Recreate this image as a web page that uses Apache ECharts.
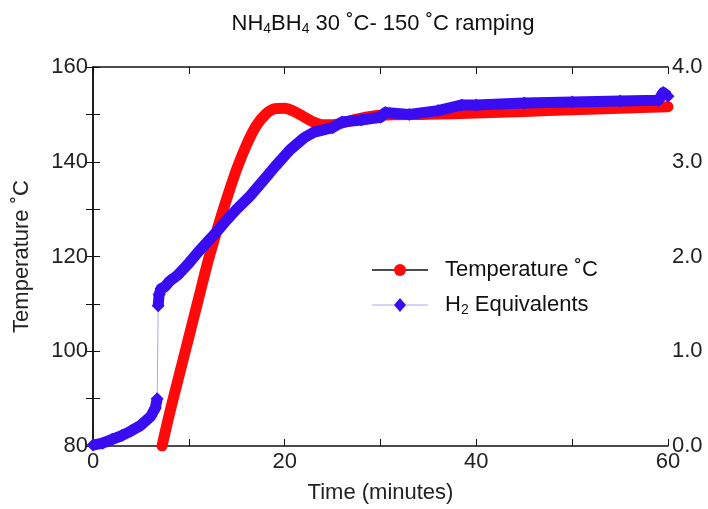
<!DOCTYPE html>
<html>
<head>
<meta charset="utf-8">
<script src="https://cdn.jsdelivr.net/npm/echarts@6/dist/echarts.min.js"></script>
<style>
  html, body { margin: 0; padding: 0; background: #fff; }
  #chart { width: 708px; height: 509px; }
</style>
</head>
<body>
<div id="chart"></div>
<script>
// temperature trace (left axis, °C)
const tempTime = [7.2, 8, 9, 10, 11, 12, 13, 14, 15, 16, 17, 18, 19, 20, 21, 22, 23, 24, 25, 26, 28, 30, 35, 40, 45, 50, 55, 60]
const tempValue = [80, 87, 95, 103, 111, 119, 126, 132.5, 138.5, 143.5, 147.5, 150, 151.2, 151.3, 150.6, 149.5, 148.4, 147.8, 147.8, 148.2, 149.2, 149.8, 150, 150.3, 150.6, 151, 151.3, 151.6]

// H2 equivalents (right axis)
const h2Time = [0, 1, 2, 3, 4, 5, 6, 6.5, 6.7, 6.8, 6.9, 7.1, 7.5, 8, 8.8, 10, 11, 12, 12.9, 14, 15, 16.4, 18, 19, 20.6, 22, 23, 25, 26, 28, 30, 30.5, 33, 36, 38.5, 40, 45, 50, 55, 59, 59.5, 60]
const h2Value = [0.01, 0.03, 0.07, 0.11, 0.16, 0.22, 0.31, 0.4, 0.5, 1.48, 1.6, 1.66, 1.68, 1.74, 1.8, 1.93, 2.05, 2.16, 2.26, 2.39, 2.5, 2.64, 2.83, 2.95, 3.13, 3.25, 3.31, 3.36, 3.42, 3.44, 3.47, 3.52, 3.5, 3.54, 3.6, 3.6, 3.62, 3.63, 3.64, 3.65, 3.73, 3.69]

const xTicks = [0, 20, 40, 60]
const leftTicks = [80, 100, 120, 140, 160]
const rightTicks = [0, 1, 2, 3, 4]

const RED = '#ff0a0a'
const BLUE = '#3a0cf2'
const FONT = 'Liberation Sans, Arial, sans-serif'

const tempData = tempTime.map((t, i) => [t, tempValue[i]])

// split the H2 band where the value jumps, and keep the jump as a thin connector
const bandData = []
let jumpAt = -1
h2Time.forEach((t, i) => {
  if (i > 0 && h2Value[i] - h2Value[i - 1] > 0.5) {
    jumpAt = i
    bandData.push([t, null])
  }
  bandData.push([t, h2Value[i]])
})
const jumpData = jumpAt > 0
  ? [[h2Time[jumpAt - 1], h2Value[jumpAt - 1]], [h2Time[jumpAt], h2Value[jumpAt]]]
  : []

const chart = echarts.init(document.getElementById('chart'))

const labelStyle = { color: '#222', fontSize: 22, fontFamily: FONT }
const subStyle = { fontSize: 14, verticalAlign: 'bottom', padding: [11, 0, 0, 0], color: '#111', fontFamily: FONT }

chart.setOption({
  animation: false,
  backgroundColor: '#fff',
  title: {
    text: 'NH{s|4}BH{s|4} 30 ˚C- 150 ˚C ramping',
    left: 378,
    textAlign: 'center',
    top: 6,
    textStyle: {
      color: '#111', fontSize: 22, fontWeight: 'normal', fontFamily: FONT,
      rich: { s: subStyle },
    },
  },
  grid: { left: 93, right: 40, top: 67, bottom: 60 },
  xAxis: [
    {
      type: 'value', min: 0, max: 60, interval: 20,
      name: 'Time (minutes)', nameLocation: 'middle', nameGap: 36,
      nameTextStyle: labelStyle,
      axisLine: { lineStyle: { color: '#111', width: 1.5 } },
      axisTick: { inside: true, length: 7, lineStyle: { color: '#111' } },
      minorTick: { show: true, splitNumber: 2, length: 7, lineStyle: { color: '#111' } },
      axisLabel: { ...labelStyle, margin: 5, customValues: xTicks },
      splitLine: { show: false },
    },
    {
      type: 'value', min: 0, max: 60, interval: 10, position: 'top',
      axisLine: { lineStyle: { color: '#111', width: 1.5 } },
      axisTick: { inside: true, length: 7, lineStyle: { color: '#111' } },
      axisLabel: { show: false },
      splitLine: { show: false },
    },
  ],
  yAxis: [
    {
      type: 'value', min: 80, max: 160, interval: 20,
      name: 'Temperature ˚C', nameLocation: 'middle', nameGap: 60, nameRotate: 90,
      nameTextStyle: labelStyle,
      axisLine: { show: true, lineStyle: { color: '#111', width: 1.5 } },
      axisTick: { inside: true, length: 7, lineStyle: { color: '#111' } },
      minorTick: { show: true, splitNumber: 2, length: 7, lineStyle: { color: '#111' } },
      axisLabel: { ...labelStyle, margin: 5, customValues: leftTicks },
      splitLine: { show: false },
    },
    {
      type: 'value', min: 0, max: 4, interval: 1, position: 'right',
      axisLine: { show: true, lineStyle: { color: '#111', width: 1.5 } },
      axisTick: { inside: true, length: 7, lineStyle: { color: '#111' } },
      minorTick: { show: true, splitNumber: 2, length: 7, lineStyle: { color: '#111' } },
      axisLabel: { ...labelStyle, margin: 4, customValues: rightTicks, formatter: (v) => v.toFixed(1) },
      splitLine: { show: false },
    },
  ],
  series: [
    {
      name: 'Temperature ˚C',
      type: 'line',
      xAxisIndex: 0, yAxisIndex: 0,
      data: tempData,
      smooth: 0.3,
      symbol: 'circle', symbolSize: 11, showSymbol: false,
      lineStyle: { color: RED, width: 11, cap: 'round' },
      itemStyle: { color: RED },
      z: 2,
    },
    {
      name: 'jump',
      type: 'line',
      xAxisIndex: 0, yAxisIndex: 1,
      data: jumpData,
      symbol: 'none',
      lineStyle: { color: '#a8a8ff', width: 1 },
      z: 3,
    },
    {
      name: 'H2 Equivalents',
      type: 'line',
      xAxisIndex: 0, yAxisIndex: 1,
      data: bandData,
      connectNulls: false,
      symbol: 'diamond', symbolSize: 13, showSymbol: true,
      lineStyle: { color: BLUE, width: 11, join: 'round' },
      itemStyle: { color: BLUE },
      z: 4,
    },
  ],
  graphic: [
    { type: 'line', shape: { x1: 372, y1: 270, x2: 428, y2: 270 }, style: { stroke: '#111', lineWidth: 1.5 } },
    { type: 'circle', shape: { cx: 400, cy: 270, r: 6 }, style: { fill: RED } },
    { type: 'text', x: 445, y: 270, style: { text: 'Temperature ˚C', fill: '#111', font: '22px ' + FONT, verticalAlign: 'middle' } },
    { type: 'line', shape: { x1: 372, y1: 305, x2: 428, y2: 305 }, style: { stroke: '#a8a8ff', lineWidth: 1 } },
    { type: 'polygon', shape: { points: [[400, 298], [406, 305], [400, 312], [394, 305]] }, style: { fill: BLUE } },
    {
      type: 'text', x: 445, y: 305,
      style: {
        text: 'H{s|2} Equivalents', fill: '#111', font: '22px ' + FONT, verticalAlign: 'middle',
        rich: { s: { ...subStyle, fill: '#111' } },
      },
    },
  ],
})
</script>
</body>
</html>
